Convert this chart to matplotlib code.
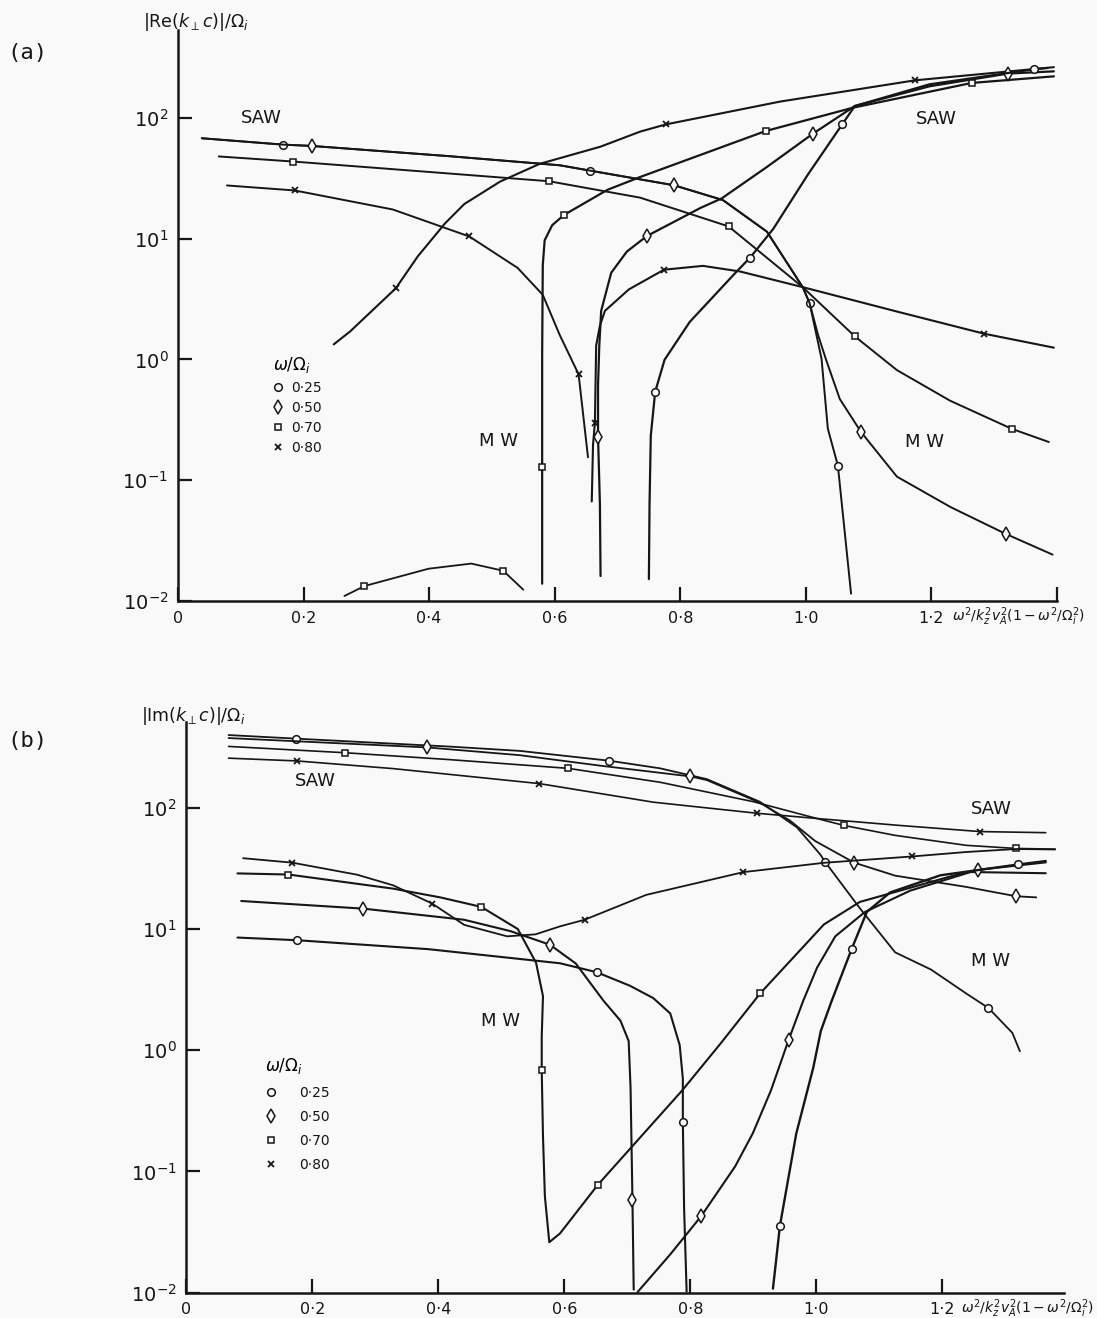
import matplotlib
matplotlib.use("Agg")
import matplotlib.pyplot as plt
from matplotlib.lines import Line2D
from matplotlib.ticker import FixedLocator, FixedFormatter, NullLocator

plt.rcParams['font.family'] = ['DejaVu Sans']
plt.rcParams['mathtext.fontset'] = 'dejavusans'

INK = '#161616'
PAPER = '#f8f9f8'

OMEGAS = [0.25, 0.50, 0.70, 0.80]
OMEGA_LABELS = ['0·25', '0·50', '0·70', '0·80']
STYLE = {
    0.25: dict(marker='o', ms=5.5, mew=1.1),
    0.50: dict(marker='d', ms=6.8, mew=1.1),
    0.70: dict(marker='s', ms=5.0, mew=1.1),
    0.80: dict(marker='x', ms=4.0, mew=1.3),
}

X_TICKS = [0, 0.2, 0.4, 0.6, 0.8, 1.0, 1.2]
X_TICK_LABELS = ['0', '0·2', '0·4', '0·6', '0·8', '1·0', '1·2']
Y_TICKS = [1e-2, 1e-1, 1e0, 1e1, 1e2]
Y_TICK_LABELS = ['$10^{-2}$', '$10^{-1}$', '$10^{0}$', '$10^{1}$', '$10^{2}$']
X_TITLE = r'$\omega^2/k_z^2v_A^2(1-\omega^2/\Omega_i^2)$'

# ---------------- (a) |Re(k_perp c)| / Omega_i ----------------
# SAW branch common to w = 0.25 and 0.50 until it splits near x = 1.01
a_saw_x = [0.038, 0.167, 0.213, 0.433, 0.608, 0.656, 0.790, 0.868, 0.938, 0.995, 1.006]
a_saw_y = [67.6, 59.9, 58.4, 48.0, 40.4, 36.5, 27.6, 20.8, 11.4, 3.96, 2.92]
a_w25_tail_x = [1.025, 1.035, 1.051, 1.072]
a_w25_tail_y = [1.01, 0.267, 0.132, 0.0115]
a_w50_tail_x = [1.019, 1.032, 1.054, 1.088, 1.145, 1.231, 1.318, 1.393]
a_w50_tail_y = [1.62, 1.00, 0.470, 0.250, 0.107, 0.0597, 0.0360, 0.0242]

a_w70_saw_x = [0.065, 0.183, 0.399, 0.591, 0.736, 0.877, 0.995, 1.078, 1.145, 1.230, 1.328, 1.387]
a_w70_saw_y = [47.8, 43.4, 35.6, 29.8, 21.8, 12.6, 3.96, 1.55, 0.815, 0.454, 0.266, 0.207]

a_w80_saw_x = [0.078, 0.186, 0.342, 0.464, 0.541, 0.581, 0.608, 0.638, 0.653]
a_w80_saw_y = [27.5, 25.0, 17.4, 10.4, 5.71, 3.42, 1.59, 0.753, 0.155]

a_w80_mw_x = [0.248, 0.274, 0.347, 0.382, 0.425, 0.456, 0.513, 0.576, 0.673, 0.736,
              0.777, 0.959, 1.174, 1.395]
a_w80_mw_y = [1.33, 1.70, 3.88, 7.13, 13.3, 19.3, 29.6, 41.5, 57.6, 76.7,
              88.0, 136, 204, 262]

a_w80_mw2_x = [0.659, 0.661, 0.664, 0.665, 0.666, 0.672, 0.680, 0.718, 0.774, 0.836,
               0.895, 0.995, 1.150, 1.284, 1.395]
a_w80_mw2_y = [0.0667, 0.196, 0.297, 0.611, 1.30, 1.90, 2.52, 3.79, 5.52, 5.94,
               5.34, 3.96, 2.45, 1.63, 1.25]

a_w50_mw_x = [0.673, 0.672, 0.669, 0.669, 0.671, 0.674, 0.690, 0.715, 0.747, 0.832,
              0.866, 0.937, 1.011, 1.078, 1.197, 1.322, 1.395]
a_w50_mw_y = [0.0161, 0.0628, 0.229, 0.611, 1.30, 2.52, 5.21, 7.81, 10.5, 17.9,
              21.5, 38.8, 73.6, 125, 182, 232, 242]

a_w70_mw_x = [0.580, 0.580, 0.580, 0.581, 0.584, 0.596, 0.615, 0.684, 0.736, 0.936,
              1.075, 1.264, 1.395]
a_w70_mw_y = [0.0139, 0.129, 1.10, 6.04, 9.68, 12.9, 15.7, 25.3, 32.3, 77.6,
              121, 194, 220]

a_w25_mw_x = [0.750, 0.751, 0.753, 0.760, 0.775, 0.815, 0.890, 0.911, 0.948, 1.003,
              1.058, 1.078, 1.197, 1.364, 1.385]
a_w25_mw_y = [0.0152, 0.0619, 0.233, 0.539, 0.993, 2.04, 5.35, 6.93, 12.0, 33.7,
              88.3, 125, 189, 252, 258]

a_w70_low_x = [0.265, 0.297, 0.399, 0.467, 0.518, 0.550]
a_w70_low_y = [0.0110, 0.0133, 0.0185, 0.0204, 0.0178, 0.0124]

# ---------------- (b) |Im(k_perp c)| / Omega_i ----------------
b_w25_saw_x = [0.067, 0.174, 0.418, 0.529, 0.671, 0.752, 0.826, 0.910, 0.969, 1.006,
               1.014, 1.069, 1.125, 1.182, 1.238, 1.273, 1.311, 1.323]
b_w25_saw_y = [397, 371, 319, 294, 244, 211, 172, 112, 68.9, 41.2,
               35.6, 14.8, 6.41, 4.62, 2.93, 2.23, 1.39, 0.980]

b_w50_saw_x = [0.067, 0.382, 0.529, 0.657, 0.800, 0.826, 0.910, 0.958, 0.998, 1.060,
               1.125, 1.238, 1.317, 1.349]
b_w50_saw_y = [375, 314, 271, 222, 181, 169, 110, 78.3, 53.1, 35.2,
               27.5, 22.2, 18.6, 18.2]

b_w70_saw_x = [0.067, 0.251, 0.418, 0.606, 0.752, 0.900, 1.006, 1.044, 1.125, 1.238,
               1.317, 1.379]
b_w70_saw_y = [320, 284, 249, 211, 162, 112, 80.1, 71.3, 59.1, 48.9,
               46.1, 45.5]

b_w80_saw_x = [0.067, 0.175, 0.328, 0.560, 0.741, 0.906, 1.006, 1.133, 1.260, 1.364]
b_w80_saw_y = [256, 243, 210, 158, 111, 89.9, 81.0, 71.3, 63.5, 62.2]

b_w80_mw_x = [0.090, 0.168, 0.271, 0.328, 0.390, 0.441, 0.509, 0.554, 0.593, 0.632,
              0.730, 0.884, 1.012, 1.152, 1.238, 1.317, 1.379]
b_w80_mw_y = [38.3, 35.2, 28.0, 22.9, 16.2, 10.8, 8.69, 9.02, 10.5, 11.9,
              19.1, 29.4, 35.1, 39.6, 43.1, 45.6, 45.2]

b_w70_mw_x = [0.081, 0.162, 0.328, 0.403, 0.468, 0.526, 0.555, 0.566, 0.564, 0.564,
              0.566, 0.569, 0.576, 0.593, 0.653, 0.787, 0.847, 0.911, 1.012, 1.069,
              1.238, 1.364]
b_w70_mw_y = [28.7, 28.1, 21.5, 18.2, 15.2, 9.98, 5.26, 2.79, 1.30, 0.684,
              0.195, 0.0625, 0.0261, 0.0308, 0.0775, 0.466, 1.12, 2.95, 10.9, 16.7,
              29.5, 28.8]

b_w25_low_x = [0.081, 0.176, 0.384, 0.593, 0.651, 0.704, 0.741, 0.768, 0.783, 0.788,
               0.788, 0.790, 0.794]
b_w25_low_y = [8.49, 8.07, 6.81, 5.21, 4.40, 3.40, 2.69, 2.01, 1.10, 0.582,
               0.256, 0.0495, 0.0102]

b_w50_low_x = [0.087, 0.281, 0.441, 0.514, 0.577, 0.618, 0.662, 0.689, 0.702, 0.705,
               0.708, 0.710]
b_w50_low_y = [17.0, 14.7, 11.9, 9.60, 7.41, 5.19, 2.56, 1.75, 1.19, 0.490,
               0.0586, 0.0106]

b_w50_rise_x = [0.716, 0.768, 0.817, 0.871, 0.899, 0.928, 0.956, 0.979, 1.001, 1.030,
                1.077, 1.149, 1.256, 1.364]
b_w50_rise_y = [0.0101, 0.0207, 0.0427, 0.110, 0.206, 0.468, 1.22, 2.55, 4.79, 8.69,
                13.8, 20.7, 30.7, 35.4]

b_w25_rise_x = [0.931, 0.936, 0.942, 0.968, 0.995, 1.007, 1.024, 1.056, 1.080, 1.117,
                1.197, 1.320, 1.364]
b_w25_rise_y = [0.0108, 0.0184, 0.0354, 0.205, 0.717, 1.44, 2.53, 6.84, 13.8, 20.0,
                27.7, 34.0, 36.3]


def curve(ax, x, y, omega, marks, lw=1.4):
    ax.plot(x, y, color=INK, lw=lw, mfc=PAPER, mec=INK,
            markevery=marks, solid_capstyle='round', **STYLE[omega])


def setup(ax, xmax, ytop, extra_tick):
    ax.set_facecolor(PAPER)
    ax.set_yscale('log')
    ax.set_xlim(0, xmax)
    ax.set_ylim(1e-2, ytop)
    for side in ('top', 'right'):
        ax.spines[side].set_visible(False)
    for side in ('left', 'bottom'):
        ax.spines[side].set_linewidth(1.8)
        ax.spines[side].set_color(INK)
    ticks = X_TICKS + ([1.4] if extra_tick else [])
    labels = X_TICK_LABELS + ([''] if extra_tick else [])
    ax.xaxis.set_major_locator(FixedLocator(ticks))
    ax.xaxis.set_major_formatter(FixedFormatter(labels))
    ax.yaxis.set_major_locator(FixedLocator(Y_TICKS))
    ax.yaxis.set_major_formatter(FixedFormatter(Y_TICK_LABELS))
    ax.yaxis.set_minor_locator(NullLocator())
    ax.xaxis.set_minor_locator(NullLocator())
    ax.tick_params(direction='in', length=10, width=1.6, color=INK)
    ax.tick_params(axis='x', labelsize=11.5, pad=7, labelcolor=INK)
    ax.tick_params(axis='y', labelsize=14, pad=7, labelcolor=INK)


def legend(ax, anchor, spacing, textpad):
    handles = [Line2D([], [], ls='none', color=INK, mfc=PAPER, mec=INK, **STYLE[w])
               for w in OMEGAS]
    leg = ax.legend(handles, OMEGA_LABELS, title=r'$\omega/\Omega_i$', loc='upper left',
                    bbox_to_anchor=anchor, frameon=False, fontsize=10,
                    title_fontsize=12, handlelength=0.8, handletextpad=textpad,
                    labelspacing=spacing, borderpad=0, borderaxespad=0,
                    alignment='left')
    for t in leg.get_texts():
        t.set_color(INK)


fig = plt.figure(figsize=(10.97, 13.18), dpi=100, facecolor=PAPER)
ax_a = fig.add_axes([178 / 1097, 1 - 601 / 1318, 879 / 1097, 571 / 1318])
ax_b = fig.add_axes([186.4 / 1097, 1 - 1292.7 / 1318, 877.6 / 1097, 571 / 1318])

# ---- panel (a)
setup(ax_a, 1.4, 10 ** 2.726, True)
curve(ax_a, a_saw_x + a_w25_tail_x, a_saw_y + a_w25_tail_y, 0.25, [1, 5, 10, 13])
curve(ax_a, a_saw_x + a_w50_tail_x, a_saw_y + a_w50_tail_y, 0.50, [2, 6, 14, 17])
curve(ax_a, a_w70_saw_x, a_w70_saw_y, 0.70, [1, 3, 5, 7, 10])
curve(ax_a, a_w80_saw_x, a_w80_saw_y, 0.80, [1, 3, 7])
curve(ax_a, a_w80_mw_x, a_w80_mw_y, 0.80, [2, 10, 12], lw=1.5)
curve(ax_a, a_w80_mw2_x, a_w80_mw2_y, 0.80, [2, 8, 13], lw=1.5)
curve(ax_a, a_w50_mw_x, a_w50_mw_y, 0.50, [2, 8, 12, 15], lw=1.6)
curve(ax_a, a_w70_mw_x, a_w70_mw_y, 0.70, [1, 6, 9, 11], lw=1.6)
curve(ax_a, a_w25_mw_x, a_w25_mw_y, 0.25, [3, 7, 10, 13], lw=1.6)
curve(ax_a, a_w70_low_x, a_w70_low_y, 0.70, [1, 4], lw=1.3)

for x, y, s in [(0.132, 100, 'SAW'), (1.208, 97.5, 'SAW'),
                (0.510, 0.210, 'M W'), (1.189, 0.206, 'M W')]:
    ax_a.text(x, y, s, fontsize=13, ha='center', va='center', color=INK)
legend(ax_a, (0.108, 0.43), 0.42, 0.5)
ax_a.text(1.232, -0.028, X_TITLE, transform=ax_a.get_xaxis_transform(),
          fontsize=10, ha='left', va='center', color=INK)

# ---- panel (b)
setup(ax_b, 1.393, 10 ** 2.709, False)
curve(ax_b, b_w25_saw_x, b_w25_saw_y, 0.25, [1, 4, 10, 15], lw=1.3)
curve(ax_b, b_w50_saw_x, b_w50_saw_y, 0.50, [1, 4, 9, 12], lw=1.3)
curve(ax_b, b_w70_saw_x, b_w70_saw_y, 0.70, [1, 3, 7, 10], lw=1.2)
curve(ax_b, b_w80_saw_x, b_w80_saw_y, 0.80, [1, 3, 5, 8], lw=1.2)
curve(ax_b, b_w80_mw_x, b_w80_mw_y, 0.80, [1, 4, 9, 11, 13], lw=1.3)
curve(ax_b, b_w70_mw_x, b_w70_mw_y, 0.70, [1, 4, 9, 14, 17], lw=1.5)
curve(ax_b, b_w25_low_x, b_w25_low_y, 0.25, [1, 4, 10], lw=1.5)
curve(ax_b, b_w50_low_x, b_w50_low_y, 0.50, [1, 4, 10], lw=1.5)
curve(ax_b, b_w50_rise_x, b_w50_rise_y, 0.50, [2, 6, 12], lw=1.5)
curve(ax_b, b_w25_rise_x, b_w25_rise_y, 0.25, [2, 7, 11], lw=1.7)

for x, y, s in [(0.204, 165, 'SAW'), (1.277, 97.4, 'SAW'),
                (0.498, 1.73, 'M W'), (1.277, 5.43, 'M W')]:
    ax_b.text(x, y, s, fontsize=13, ha='center', va='center', color=INK)
legend(ax_b, (0.090, 0.415), 0.72, 1.6)
ax_b.text(1.229, -0.028, X_TITLE, transform=ax_b.get_xaxis_transform(),
          fontsize=10, ha='left', va='center', color=INK)

# axis titles and panel letters
fig.text(143 / 1097, 1 - 22 / 1318, r'$|\mathrm{Re}(k_{\perp}c)|/\Omega_i$',
         fontsize=12.5, ha='left', va='center', color=INK)
fig.text(141 / 1097, 1 - 716 / 1318, r'$|\mathrm{Im}(k_{\perp}c)|/\Omega_i$',
         fontsize=12.5, ha='left', va='center', color=INK)
fig.text(7 / 1097, 1 - 53 / 1318, '(a)', fontsize=16, family='DejaVu Sans Mono',
         ha='left', va='center', color=INK)
fig.text(7 / 1097, 1 - 741 / 1318, '(b)', fontsize=16, family='DejaVu Sans Mono',
         ha='left', va='center', color=INK)

fig.savefig('out.png', dpi=100, facecolor=PAPER)
